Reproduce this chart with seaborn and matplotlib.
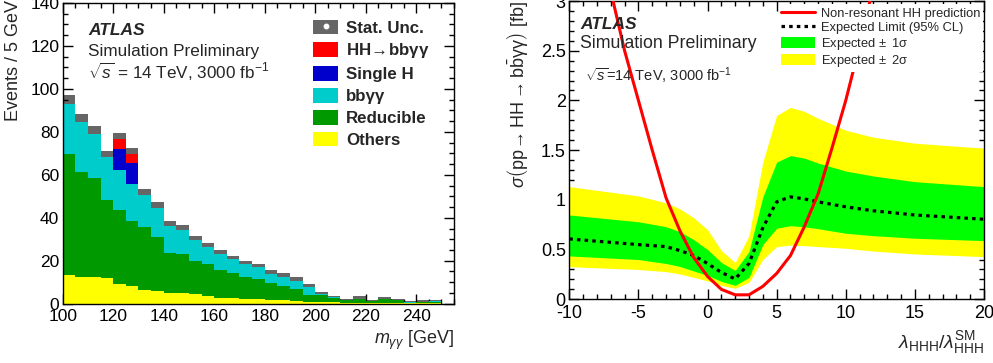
import numpy as np
import pandas as pd
import matplotlib
matplotlib.use("Agg")
import matplotlib.pyplot as plt
import seaborn as sns
from matplotlib.patches import Patch
from matplotlib.lines import Line2D
from matplotlib.ticker import MultipleLocator

# ---------------- data: left panel (events / 5 GeV) ----------------
mass_edges = list(range(100, 255, 5))          # 100 ... 250
others    = [13.2, 12.2, 12.2, 12.0, 9.1, 8.2, 6.5, 5.9, 5.0, 4.9, 4.4, 3.4, 2.6, 2.5, 2.1,
             2.0, 1.9, 1.6, 1.4, 1.0, 0.8, 0.7, 0.5, 0.5, 0.3, 0.5, 0.3, 0.2, 0.3, 0.3]
reducible = [56.7, 49.0, 46.3, 36.5, 34.4, 30.2, 29.1, 25.3, 18.7, 18.4, 15.3, 15.0, 13.2, 11.7, 10.4,
             9.6, 7.6, 6.7, 5.6, 3.1, 3.1, 2.0, 1.2, 1.7, 0.9, 1.7, 1.3, 0.3, 0.6, 0.7]
bbyy      = [23.1, 23.2, 20.4, 19.7, 18.9, 17.1, 14.8, 13.3, 12.3, 11.2, 9.8, 8.0, 7.5, 6.6, 6.1,
             5.4, 4.4, 4.3, 3.8, 3.6, 0.6, 0.2, 0.1, 0.1, 0.1, 0.1, 0.1, 0.1, 0.1, 0.1]
single_h  = [0, 0, 0, 0, 9.8, 9.9, 0, 0, 0, 0, 0, 0, 0, 0, 0,
             0, 0, 0, 0, 0, 0, 0, 0, 0, 0, 0, 0, 0, 0, 0]
hh_bbyy   = [0, 0, 0, 0, 4.4, 4.5, 0, 0, 0, 0, 0, 0, 0, 0, 0,
             0, 0, 0, 0, 0, 0, 0, 0, 0, 0, 0, 0, 0, 0, 0]
stat_unc  = [4.2, 3.9, 3.9, 3.1, 3.1, 2.8, 2.8, 2.8, 2.4, 2.2, 1.9, 1.9, 1.8, 1.5, 1.5,
             1.6, 1.7, 1.9, 1.5, 1.5, 1.0, 0.9, 0.6, 1.1, 0.4, 1.0, 0.7, 0.5, 0.6, 0.6]
process_names  = ["Others", "Reducible", "bbγγ", "Single H", "HH$\\!\\rightarrow\\!$bbγγ"]
process_colors = ["#ffff00", "#009900", "#00cccc", "#0000cc", "#ff0000"]

# ---------------- data: right panel (limit vs kappa_lambda) ----------------
lam       = [-10, -5, -3, -2, -1, 0, 1, 2, 3, 4, 5, 6, 7, 8, 10, 12, 15, 20]
exp_limit = [0.607, 0.55, 0.53, 0.49, 0.44, 0.36, 0.27, 0.205, 0.36, 0.72, 0.98, 1.03, 1.01, 0.98,
             0.93, 0.89, 0.848, 0.805]
band1_hi  = [0.848, 0.78, 0.73, 0.68, 0.60, 0.50, 0.37, 0.29, 0.48, 1.03, 1.38, 1.445, 1.42, 1.37,
             1.29, 1.24, 1.183, 1.133]
band1_lo  = [0.436, 0.40, 0.36, 0.33, 0.285, 0.24, 0.18, 0.14, 0.22, 0.55, 0.715, 0.74, 0.73, 0.71,
             0.664, 0.64, 0.614, 0.59]
band2_hi  = [1.133, 1.04, 0.97, 0.91, 0.82, 0.70, 0.49, 0.37, 0.64, 1.38, 1.85, 1.93, 1.89, 1.82,
             1.70, 1.63, 1.57, 1.52]
band2_lo  = [0.328, 0.30, 0.278, 0.255, 0.22, 0.185, 0.14, 0.11, 0.17, 0.40, 0.53, 0.545, 0.54, 0.53,
             0.513, 0.485, 0.456, 0.429]
lam_pred  = list(range(-8, 14))
xs_pred   = [3.6, 3.1, 2.5, 2.0, 1.5, 1.02, 0.69, 0.42, 0.23, 0.10, 0.045, 0.045, 0.13, 0.26,
             0.44, 0.73, 1.06, 1.52, 2.0, 2.55, 3.15, 3.8]

# ---------------- style ----------------
sns.set_theme(style="ticks")
plt.rcParams["font.family"] = ["Liberation Sans", "DejaVu Sans"]
plt.rcParams["mathtext.fontset"] = "custom"
plt.rcParams["mathtext.rm"] = "Liberation Sans"
plt.rcParams["mathtext.it"] = "Liberation Sans:italic"
plt.rcParams["mathtext.bf"] = "Liberation Sans:bold"
plt.rcParams["mathtext.sf"] = "Liberation Sans"
plt.rcParams["axes.linewidth"] = 1.0
plt.rcParams["axes.edgecolor"] = "black"
plt.rcParams["axes.unicode_minus"] = False

DPI = 100
fig = plt.figure(figsize=(993 / DPI, 363 / DPI), dpi=DPI)
ax1 = fig.add_axes([62.7 / 993, 1 - 303.7 / 363, (454 - 62.7) / 993, (303.7 - 3) / 363])
ax2 = fig.add_axes([569.3 / 993, 1 - 299.3 / 363, (984 - 569.3) / 993, (299.3 - 1) / 363])

# ---------------- left panel ----------------
edges = [float(e) for e in mass_edges]
centers = np.array(edges[:-1]) + 2.5
comps = np.array([others, reducible, bbyy, single_h, hh_bbyy])
cum = np.cumsum(comps, axis=0)
total = cum[-1]
unc = np.array(stat_unc)

# stat. uncertainty box (total +- unc) drawn underneath the stack
ax1.bar(centers, 2 * unc, bottom=total - unc, width=5, color="#666666", linewidth=0, zorder=0.5)
for i in range(len(process_names) - 1, -1, -1):
    df_layer = pd.DataFrame({"mass": centers, "w": cum[i]})
    sns.histplot(data=df_layer, x="mass", weights="w", bins=edges, element="step", fill=True,
                 color=process_colors[i], alpha=1, linewidth=0, ax=ax1)

ax1.set_xlim(100, 255)
ax1.set_ylim(0, 140)
ax1.xaxis.set_major_locator(MultipleLocator(20))
ax1.xaxis.set_minor_locator(MultipleLocator(5))
ax1.yaxis.set_major_locator(MultipleLocator(20))
ax1.yaxis.set_minor_locator(MultipleLocator(5))
for ax in (ax1, ax2):
    ax.tick_params(which="both", direction="in", top=True, right=True, colors="black")
    ax.tick_params(which="major", length=7.5, width=1.0)
    ax.tick_params(which="minor", length=3.8, width=1.0)
ax1.tick_params(axis="y", which="major", labelsize=12.5, pad=2.5)
ax1.tick_params(axis="x", which="major", labelsize=12.5, pad=4)

ax1.set_ylabel("Events / 5 GeV", fontsize=13, loc="top")
ax1.yaxis.set_label_coords(-0.105, 1.01)
ax1.set_xlabel(r"$m_{\gamma\gamma}$ [GeV]", fontsize=13, loc="right")
ax1.xaxis.set_label_coords(1.0, -0.085)

ax1.text(0.0647, 0.910, "ATLAS", transform=ax1.transAxes, fontsize=12.5,
         fontweight="bold", fontstyle="italic", va="center", ha="left")
ax1.text(0.0647, 0.840, "Simulation Preliminary", transform=ax1.transAxes, fontsize=12.3,
         va="center", ha="left")
ax1.text(0.0647, 0.771, r"$\sqrt{s}$ = 14 TeV, 3000 fb$^{-1}$", transform=ax1.transAxes,
         fontsize=12.3, va="center", ha="left")

h_stat = (Patch(facecolor="#666666", edgecolor="none"),
          Line2D([], [], marker="o", color="white", markersize=3.2, linestyle="none"))
handles1 = [h_stat] + [Patch(facecolor=process_colors[i], edgecolor="none") for i in (4, 3, 2, 1, 0)]
labels1 = ["Stat. Unc."] + [process_names[i] for i in (4, 3, 2, 1, 0)]
leg1 = ax1.legend(handles1, labels1, loc="upper left", bbox_to_anchor=(0.6397, 0.945),
                  frameon=False, borderpad=0, borderaxespad=0, handlelength=1.5,
                  handleheight=0.95, handletextpad=0.45, labelspacing=0.34,
                  prop={"weight": "bold", "size": 12.2})

# ---------------- right panel ----------------
ax2.fill_between(lam, band2_lo, band2_hi, color="#ffff00", linewidth=0, zorder=1)
ax2.fill_between(lam, band1_lo, band1_hi, color="#00ff00", linewidth=0, zorder=1.1)
df_exp = pd.DataFrame({"lam": lam, "limit": exp_limit})
df_pred = pd.DataFrame({"lam": lam_pred, "xs": xs_pred})
sns.lineplot(data=df_exp, x="lam", y="limit", color="black", linewidth=2.3,
             linestyle=(0, (1.1, 1.3)), ax=ax2, zorder=2)
sns.lineplot(data=df_pred, x="lam", y="xs", color="#ff0000", linewidth=2.2, ax=ax2, zorder=3)

ax2.set_xlim(-10, 20)
ax2.set_ylim(0, 3)
ax2.xaxis.set_major_locator(MultipleLocator(5))
ax2.xaxis.set_minor_locator(MultipleLocator(1))
ax2.yaxis.set_major_locator(MultipleLocator(0.5))
ax2.yaxis.set_minor_locator(MultipleLocator(0.1))
ax2.tick_params(axis="y", which="major", labelsize=13, pad=2.5)
ax2.tick_params(axis="x", which="major", labelsize=13, pad=4)
ax2.set_yticks([0, 0.5, 1, 1.5, 2, 2.5, 3])
ax2.set_yticklabels(["0", "0.5", "1", "1.5", "2", "2.5", "3"])

ax2.set_ylabel(r"$\sigma\left(\mathrm{pp}\!\rightarrow\mathrm{HH}\rightarrow\mathrm{b\bar{b}\gamma\gamma}\right)$ [fb]",
               fontsize=13, loc="top")
ax2.yaxis.set_label_coords(-0.095, 1.0)
ax2.set_xlabel(r"$\lambda_{\mathrm{HHH}}/\lambda_{\mathrm{HHH}}^{\mathrm{SM}}$", fontsize=14, loc="right")
ax2.xaxis.set_label_coords(1.0, -0.10)

ax2.text(0.0258, 0.922, "ATLAS", transform=ax2.transAxes, fontsize=12.5,
         fontweight="bold", fontstyle="italic", va="center", ha="left")
ax2.text(0.0258, 0.858, "Simulation Preliminary", transform=ax2.transAxes, fontsize=12.8,
         va="center", ha="left")
ax2.text(0.038, 0.748, r"$\sqrt{s}$=14 TeV, 3000 fb$^{-1}$", transform=ax2.transAxes,
         fontsize=10.5, va="center", ha="left")

handles2 = [Line2D([], [], color="#ff0000", linewidth=2.2),
            Line2D([], [], color="black", linewidth=2.3, linestyle=(0, (1.1, 1.3))),
            Patch(facecolor="#00ff00", edgecolor="none"),
            Patch(facecolor="#ffff00", edgecolor="none")]
labels2 = ["Non-resonant HH prediction", "Expected Limit (95% CL)",
           "Expected$\\,\\pm$ 1σ", "Expected$\\,\\pm$ 2σ"]
leg2 = ax2.legend(handles2, labels2, loc="upper left", bbox_to_anchor=(0.505, 0.989),
                  frameon=True, facecolor="white", edgecolor="none", framealpha=1, fancybox=False,
                  borderpad=0.2, borderaxespad=0, handlelength=2.6,
                  handleheight=0.9, handletextpad=0.5, labelspacing=0.12, fontsize=9.3)
leg2.set_zorder(5)

fig.savefig("out.png", dpi=DPI)
